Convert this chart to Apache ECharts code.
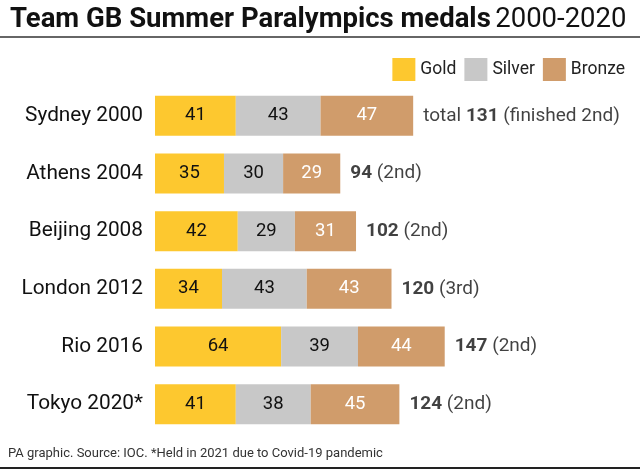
<!DOCTYPE html>
<html>
<head>
<meta charset="utf-8">
<script src="https://cdn.jsdelivr.net/npm/echarts@6/dist/echarts.min.js"></script>
<style>html,body{margin:0;padding:0;background:#fff}#c{width:640px;height:471px}</style>
</head>
<body>
<div id="c"></div>
<script>
const categories = ['Sydney 2000','Athens 2004','Beijing 2008','London 2012','Rio 2016','Tokyo 2020*'];
const gold = [41,35,42,34,64,41];
const silver = [43,30,29,43,39,38];
const bronze = [47,29,31,43,44,45];
const places = ['2nd','2nd','2nd','3rd','2nd','2nd'];

const totals = categories.map((c,i)=>gold[i]+silver[i]+bronze[i]);
const FONT = 'Roboto';
const chart = echarts.init(document.getElementById('c'), null, {renderer:'canvas'});

function barSeries(name, data, color, labelColor){
  return {
    name, type:'bar', stack:'m', data, barWidth:40,
    itemStyle:{color},
    label:{show:true, position:'inside', color:labelColor, fontFamily:FONT, fontSize:18.5},
    emphasis:{disabled:true}
  };
}

chart.setOption({
  animation:false,
  textStyle:{fontFamily:FONT},
  title:{
    text:'{b|Team GB Summer Paralympics medals} {r|2000-2020}',
    left:5, top:1,
    textStyle:{rich:{
      b:{fontFamily:FONT, fontWeight:'bold', fontSize:27.5, color:'#111'},
      r:{fontFamily:FONT, fontWeight:'normal', fontSize:27.5, color:'#111'}
    }}
  },
  legend:{
    data:['Gold','Silver','Bronze'],
    right:10, top:53, itemWidth:23, itemHeight:23, itemGap:8,
    icon:'rect',
    textStyle:{fontFamily:FONT, fontSize:17.5, color:'#222'},
    selectedMode:false
  },
  grid:{left:155, right:12, top:87, bottom:38, containLabel:false},
  xAxis:{type:'value', min:0, max:240, show:false},
  yAxis:{
    type:'category', data:categories, inverse:true,
    axisLine:{show:false}, axisTick:{show:false},
    axisLabel:{fontFamily:FONT, fontSize:20.8, color:'#111', margin:12}
  },
  series:[
    barSeries('Gold', gold, '#fdc82f', '#111'),
    barSeries('Silver', silver, '#c8c8c8', '#111'),
    barSeries('Bronze', bronze, '#d09c6b', '#fff'),
    {
      type:'scatter', symbolSize:0, silent:true,
      data: totals.map((t,i)=>[t, categories[i]]),
      label:{
        show:true, position:'right', distance:10,
        formatter:(p)=>{
          const i=p.dataIndex;
          return i===0 ? `total {b|${totals[i]}} (finished ${places[i]})` : `{b|${totals[i]}} (${places[i]})`;
        },
        fontFamily:FONT, fontSize:19, color:'#111',
        rich:{b:{fontFamily:FONT, fontSize:19, fontWeight:'bold', color:'#111'}}
      }
    }
  ],
  graphic:[
    {type:'line', shape:{x1:0,y1:37,x2:640,y2:37}, style:{stroke:'#333', lineWidth:1.5}},
    {type:'line', shape:{x1:0,y1:468,x2:640,y2:468}, style:{stroke:'#222', lineWidth:2}},
    {type:'text', left:8, top:447, style:{text:'PA graphic. Source: IOC. *Held in 2021 due to Covid-19 pandemic', fontFamily:FONT, fontSize:13, fill:'#333'}}
  ]
});
</script>
</body>
</html>
